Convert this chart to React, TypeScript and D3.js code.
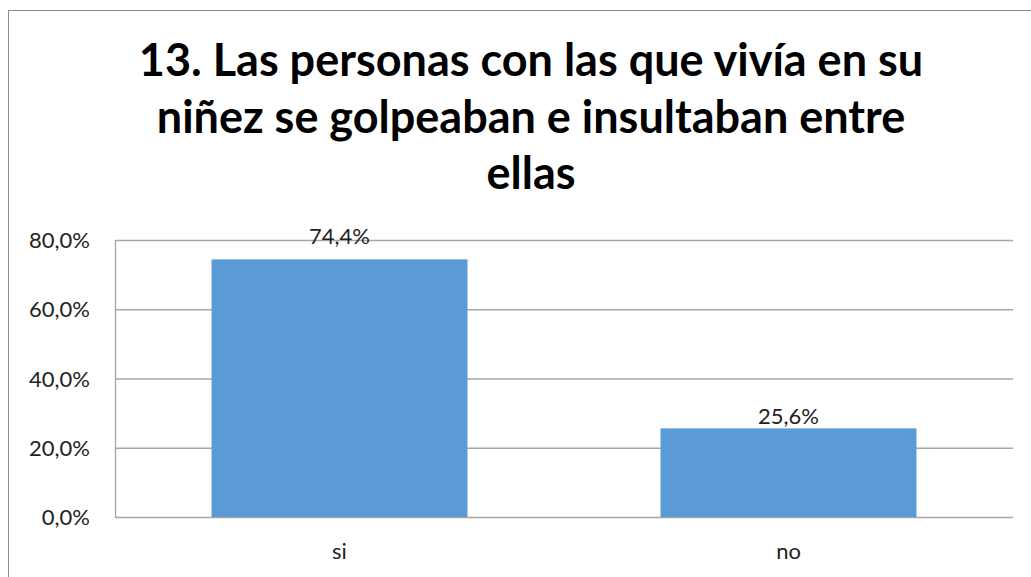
import React from "react";
import * as d3 from "d3";

const categories = ["si", "no"];
const values = [74.4, 25.6];
const yTicks = [0, 20, 40, 60, 80];
const titleLines = [
  "13. Las personas con las que vivía en su",
  "niñez se golpeaban e insultaban entre",
  "ellas",
];

export default function App() {
  const W = 1031;
  const H = 577;
  const left = 115;
  const right = 1013;
  const top = 240;
  const bottom = 517;
  const x = d3.scaleBand<string>().domain(categories).range([left, right]).paddingInner(0.43).paddingOuter(0.215);
  const y = d3.scaleLinear().domain([0, 80]).range([bottom, top]);
  const fmt = (v: number) => v.toFixed(1).replace(".", ",") + "%";
  const font = "Lato, 'Open Sans', sans-serif";
  return (
    <svg width={W} height={H} style={{ position: "absolute", left: 0, top: 0, background: "#fff" }}>
      <rect x={0} y={0} width={W} height={H} fill="#fff" />
      <rect x={8.5} y={10.5} width={W + 20} height={H + 20} fill="none" stroke="#8c8c8c" strokeWidth={1} />
      {titleLines.map((t, i) => (
        <text key={i} x={531} y={76 + i * 56.5} textAnchor="middle" fontFamily={font} fontWeight={700} fontSize={45} fill="#000">
          {t}
        </text>
      ))}
      {yTicks.map((t) => (
        <g key={t}>
          <line x1={left} x2={right} y1={y(t) + 0.5} y2={y(t) + 0.5} stroke="#a6a6a6" strokeWidth={1.3} />
          <text x={90} y={y(t) + 8} textAnchor="end" fontFamily={font} fontSize={22} fill="#222">
            {fmt(t)}
          </text>
        </g>
      ))}
      <line x1={left + 0.5} x2={left + 0.5} y1={top} y2={bottom + 0.5} stroke="#a6a6a6" strokeWidth={1.3} />
      {categories.map((c, i) => (
        <g key={c}>
          <rect x={x(c)!} y={y(values[i])} width={x.bandwidth()} height={bottom - y(values[i])} fill="#5b9bd5" />
          <text x={x(c)! + x.bandwidth() / 2} y={y(values[i]) - (i === 0 ? 15 : 4)} textAnchor="middle" fontFamily={font} fontSize={22} fill="#222">
            {fmt(values[i])}
          </text>
          <text x={x(c)! + x.bandwidth() / 2} y={559} textAnchor="middle" fontFamily={font} fontSize={22} fill="#222">
            {c}
          </text>
        </g>
      ))}
    </svg>
  );
}
